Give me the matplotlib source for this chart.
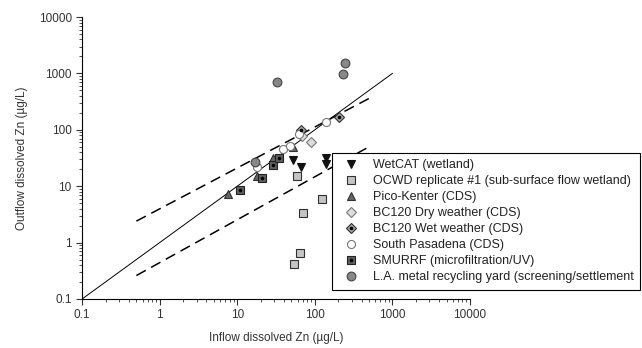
import numpy as np
import matplotlib
matplotlib.use("Agg")
import matplotlib.pyplot as plt
from matplotlib.legend_handler import HandlerTuple
from matplotlib.lines import Line2D

plt.rcParams['font.family'] = ['Liberation Sans', 'DejaVu Sans']

# inflow / outflow dissolved Zn (ug/L)
wetcat_in = [52, 66, 139, 139]
wetcat_out = [29, 22, 31, 25]
ocwd_in = [59, 122, 70, 64, 54]
ocwd_out = [15, 6, 3.4, 0.64, 0.42]
pico_in = [7.6, 17.7, 29, 52]
pico_out = [7.2, 15, 31, 50]
bcdry_in = [68, 88]
bcdry_out = [77, 62]
bcwet_in = [66, 205]
bcwet_out = [98, 170]
pasadena_in = [18, 39, 47.5, 62, 139]
pasadena_out = [22, 45, 52, 83, 137]
smurrf_in = [11, 21, 29, 35]
smurrf_out = [8.5, 14, 23.5, 32]
layard_in = [17, 33, 232, 246]
layard_out = [27, 700, 980, 1550]

# 1:1 line and dashed bounds
one_x = [0.1, 1000]
one_y = [0.1, 1000]
dash_x = [0.5, 500]
upper_y = [2.4, 360]
lower_y = [0.26, 50]

labels = ['WetCAT (wetland)',
          'OCWD replicate #1 (sub-surface flow wetland)',
          'Pico-Kenter (CDS)',
          'BC120 Dry weather (CDS)',
          'BC120 Wet weather (CDS)',
          'South Pasadena (CDS)',
          'SMURRF (microfiltration/UV)',
          'L.A. metal recycling yard (screening/settlement']

fig = plt.figure(figsize=(6.42, 3.48), dpi=100)
ax = fig.add_axes([0.128, 0.141, 0.604, 0.810])

ax.plot(one_x, one_y, color='black', lw=0.7)
ax.plot(dash_x, upper_y, color='black', lw=1.1, dashes=(7, 4))
ax.plot(dash_x, lower_y, color='black', lw=1.1, dashes=(7, 4))

ms = 5.8
ec = '#303030'
styles = [
    dict(marker='v', mfc='#111111', mec='#111111', ms=ms),
    dict(marker='s', mfc='#c4c4c4', mec=ec, ms=ms - 0.5),
    dict(marker='^', mfc='#666666', mec=ec, ms=ms),
    dict(marker='D', mfc='#dcdcdc', mec='#777777', ms=ms - 0.5),
    dict(marker='D', mfc='#a8a8a8', mec=ec, ms=ms - 0.5),
    dict(marker='o', mfc='white', mec='#777777', ms=ms),
    dict(marker='s', mfc='#606060', mec='#222222', ms=ms - 0.5),
    dict(marker='o', mfc='#888888', mec='#444444', ms=ms + 0.5),
]
series = [(wetcat_in, wetcat_out), (ocwd_in, ocwd_out), (pico_in, pico_out),
          (bcdry_in, bcdry_out), (bcwet_in, bcwet_out),
          (pasadena_in, pasadena_out), (smurrf_in, smurrf_out),
          (layard_in, layard_out)]
dotted = {4, 6}

handles = []
for i, ((xs, ys), st) in enumerate(zip(series, styles)):
    ax.plot(xs, ys, ls='none', mew=0.8, zorder=3, **st)
    h = Line2D([], [], ls='none', mew=0.8, **st)
    if i in dotted:
        ax.plot(xs, ys, ls='none', marker='o', ms=1.6, color='black', zorder=4)
        d = Line2D([], [], ls='none', marker='o', ms=1.6, color='black')
        handles.append((h, d))
    else:
        handles.append(h)

ax.set_xscale('log')
ax.set_yscale('log')
ax.set_xlim(0.1, 10000)
ax.set_ylim(0.1, 10000)
ticks = [0.1, 1, 10, 100, 1000, 10000]
ticklabels = ['0.1', '1', '10', '100', '1000', '10000']
ax.set_xticks(ticks)
ax.set_xticklabels(ticklabels)
ax.set_yticks(ticks)
ax.set_yticklabels(ticklabels)
ax.tick_params(which='major', length=4, width=0.8, labelsize=8.5, color='#333333', labelcolor='#333333')
ax.tick_params(which='minor', length=2, width=0.6, color='#333333')
ax.spines['top'].set_visible(False)
ax.spines['right'].set_visible(False)
ax.set_xlabel('Inflow dissolved Zn (µg/L)', fontsize=8.5, color='#333333', labelpad=8)
ax.set_ylabel('Outflow dissolved Zn (µg/L)', fontsize=8.5, color='#333333', labelpad=8)

leg = fig.legend(handles, labels, loc='upper left', bbox_to_anchor=(0.517, 0.56),
                 bbox_transform=fig.transFigure, fontsize=9, frameon=True,
                 fancybox=False, edgecolor='black', framealpha=1,
                 labelspacing=0.32, handletextpad=0.8, borderpad=0.5,
                 borderaxespad=0,
                 handler_map={tuple: HandlerTuple(ndivide=1, pad=0)})
leg.get_frame().set_linewidth(0.8)
for t in leg.get_texts():
    t.set_color('#222222')

fig.savefig('out.png', dpi=100)
